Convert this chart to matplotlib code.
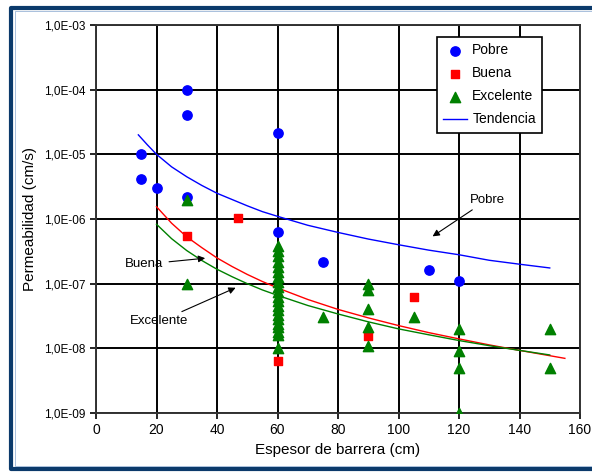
"""Permeabilidad vs espesor de barrera."""

import math
import matplotlib.pyplot as plt
from matplotlib.lines import Line2D
from matplotlib.ticker import FixedLocator, FuncFormatter

plt.rcParams['font.family'] = ['Liberation Sans', 'DejaVu Sans']

# Pobre (circulos azules)
pobre_x = [15, 15, 20, 30, 30, 30, 60, 60, 75, 110, 120]
pobre_y = [1e-5, 4.2e-6, 3e-6, 1e-4, 4e-5, 2.2e-6, 2.1e-5, 6.3e-7, 2.2e-7, 1.6e-7, 1.1e-7]

# Buena (cuadrados rojos)
buena_x = [30, 47, 60, 90, 105]
buena_y = [5.5e-7, 1.05e-6, 6.4e-9, 1.55e-8, 6.2e-8]

# Excelente (triangulos verdes)
exc_x = [30, 30,
         60, 60, 60, 60, 60, 60, 60, 60, 60, 60, 60, 60, 60, 60, 60, 60, 60, 60, 60, 60, 60,
         75, 90, 90, 90, 90, 90, 105, 120, 120, 120, 120, 150, 150]
exc_y = [2e-6, 1e-7,
         3.8e-7, 3.2e-7, 2.7e-7, 2.2e-7, 1.8e-7, 1.5e-7, 1.25e-7, 1.05e-7, 9e-8, 7.5e-8,
         6.3e-8, 5.3e-8, 4.5e-8, 3.9e-8, 3.3e-8, 2.8e-8, 2.4e-8, 2.1e-8, 1.8e-8, 1.6e-8, 1e-8,
         3.1e-8, 1e-7, 8e-8, 4e-8, 2.1e-8, 1.07e-8, 3.1e-8, 2e-8, 9e-9, 5e-9, 1e-9, 2e-8, 5e-9]

# Lineas de tendencia
tend_pobre_x = [14, 17, 20, 25, 30, 35, 40, 45, 50, 55, 60, 70, 80, 90, 100, 110, 120, 130, 140, 150]
tend_pobre_y = [2e-5, 1.4e-5, 1e-5, 6.4e-6, 4.5e-6, 3.3e-6, 2.5e-6, 2e-6, 1.6e-6, 1.3e-6,
                1.1e-6, 8e-7, 6.2e-7, 4.9e-7, 4e-7, 3.3e-7, 2.8e-7, 2.3e-7, 2e-7, 1.75e-7]
tend_buena_x = [20, 25, 30, 35, 40, 45, 50, 55, 60, 70, 80, 90, 100, 110, 120, 130, 140, 155]
tend_buena_y = [1.55e-6, 8.6e-7, 5.3e-7, 3.6e-7, 2.5e-7, 1.84e-7, 1.39e-7, 1.08e-7, 8.6e-8,
                5.7e-8, 4e-8, 2.96e-8, 2.25e-8, 1.75e-8, 1.4e-8, 1.13e-8, 9.3e-9, 7e-9]
tend_exc_x = [20, 25, 30, 35, 40, 45, 50, 55, 60, 70, 80, 90, 100, 110, 120, 130, 140, 150]
tend_exc_y = [8.3e-7, 4.96e-7, 3.25e-7, 2.28e-7, 1.67e-7, 1.28e-7, 1e-7, 8e-8, 6.6e-8,
              4.6e-8, 3.4e-8, 2.57e-8, 2e-8, 1.62e-8, 1.32e-8, 1.1e-8, 9.3e-9, 7.9e-9]

x_ticks = [0, 20, 40, 60, 80, 100, 120, 140, 160]
y_ticks = [1e-9, 1e-8, 1e-7, 1e-6, 1e-5, 1e-4, 1e-3]

fig = plt.figure(figsize=(5.92, 4.73), dpi=100)
fig.patch.set_facecolor('white')
ax = fig.add_axes([96 / 592, 1 - 413 / 473, 484 / 592, 388 / 473])

# marco de la figura (arriba, izquierda, abajo)
W, H = 592, 473
for xs, ys, c, lw in [
        ([600, 11, 11, 600], [8, 8, 469, 469], '#0b3a6b', 3),
        ([600, 14.5, 14.5, 600], [11.5, 11.5, 466, 466], '#a9c0dc', 0.7)]:
    fig.lines.append(Line2D([x / W for x in xs], [1 - y / H for y in ys],
                            transform=fig.transFigure, color=c, linewidth=lw))

ax.set_yscale('log')
ax.set_xlim(0, 160)
ax.set_ylim(1e-9, 1e-3)
ax.grid(True, which='major', color='black', linewidth=1.4)
ax.set_axisbelow(True)
ax.xaxis.set_major_locator(FixedLocator(x_ticks))
ax.yaxis.set_major_locator(FixedLocator(y_ticks))
ax.yaxis.set_minor_locator(FixedLocator([]))
ax.yaxis.set_major_formatter(FuncFormatter(lambda v, _: '1,0E-%02d' % round(-math.log10(v))))
ax.tick_params(axis='y', labelsize=8.5, length=4, width=1.2)
ax.tick_params(axis='x', labelsize=10, length=4, width=1.2)
for s in ax.spines.values():
    s.set_linewidth(1.4)
    s.set_color('#333333')

ax.plot(tend_pobre_x, tend_pobre_y, color='blue', linewidth=1, label='Tendencia', zorder=2)
ax.plot(tend_buena_x, tend_buena_y, color='red', linewidth=1, zorder=2)
ax.plot(tend_exc_x, tend_exc_y, color='green', linewidth=1, zorder=2)

ax.scatter(pobre_x, pobre_y, marker='o', s=45, color='blue', label='Pobre', zorder=3)
ax.scatter(buena_x, buena_y, marker='s', s=30, color='red', label='Buena', zorder=3)
ax.scatter(exc_x, exc_y, marker='^', s=55, color='green', label='Excelente', zorder=4)

arrow = dict(arrowstyle='-|>', color='black', linewidth=0.8, mutation_scale=10)
ax.annotate('Pobre', xy=(110.5, 5.1e-7), xytext=(129.5, 2e-6), fontsize=9.5,
            ha='center', va='center', arrowprops=arrow)
ax.annotate('Buena', xy=(37, 2.5e-7), xytext=(16, 2e-7), fontsize=9.5,
            ha='center', va='center', arrowprops=arrow)
ax.annotate('Excelente', xy=(47, 9e-8), xytext=(21, 2.6e-8), fontsize=9.5,
            ha='center', va='center', arrowprops=arrow)

handles, labels = ax.get_legend_handles_labels()
order = [labels.index(n) for n in ['Pobre', 'Buena', 'Excelente', 'Tendencia']]
leg = ax.legend([handles[i] for i in order], [labels[i] for i in order],
                loc='upper right', bbox_to_anchor=(0.922, 0.969), borderaxespad=0,
                fontsize=10, fancybox=False, framealpha=1, edgecolor='black',
                handlelength=1.7, borderpad=0.45, labelspacing=0.65, handletextpad=0.4)
leg.get_frame().set_linewidth(1.2)

ax.set_xlabel('Espesor de barrera (cm)', fontsize=11, labelpad=4)
ax.set_ylabel('Permeabilidad (cm/s)', fontsize=11, labelpad=5)

fig.savefig('out.png', dpi=100)
